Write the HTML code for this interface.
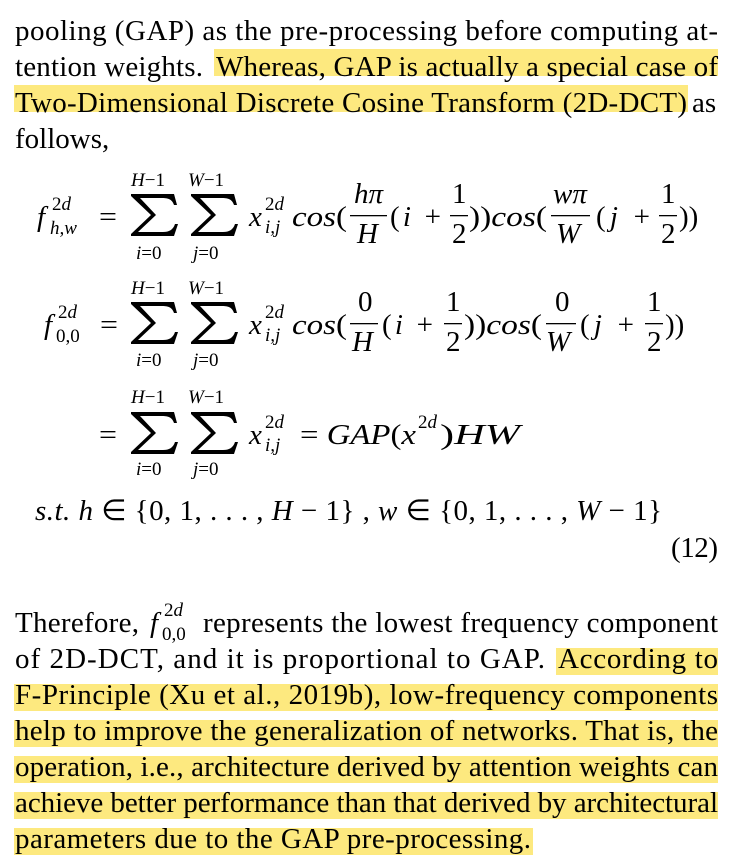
<!DOCTYPE html>
<html><head><meta charset="utf-8"><style>
html,body{margin:0;padding:0;background:#fff;}
svg{display:block;}
text{font-family:"Liberation Serif",serif;fill:#000;}
.t{font-size:29px;}
.m{font-size:29px;font-style:italic;}
.r{font-size:29px;}
.s{font-size:19px;font-style:italic;}
.sr{font-size:19px;}
</style></head><body>
<svg width="733" height="862" viewBox="0 0 733 862">
<defs>
<path id="sig" d="M0,0 L43,0 L46,11 L43,11 C41,5 37,4 30,4 L9,4 L25,21 L7,38 L32,38 C38,38 42,36 44,30 L47,30 L43,42 L0,42 L0,40 L20,21 L0,2 Z"/>
</defs>
<g fill="#fde97f">
<rect x="214" y="49" width="504" height="27"/>
<rect x="14" y="85" width="674" height="27"/>
<rect x="556" y="648" width="162" height="27"/>
<rect x="14" y="684" width="704" height="27"/>
<rect x="14" y="720" width="704" height="27"/>
<rect x="14" y="756" width="704" height="27"/>
<rect x="14" y="792" width="704" height="27"/>
<rect x="14" y="828" width="519" height="27"/>
</g>
<g class="t">
<text x="15" y="40" textLength="703" lengthAdjust="spacing">pooling (GAP) as the pre-processing before computing at-</text>
<text x="15" y="76" textLength="188" lengthAdjust="spacing">tention weights.</text>
<text x="216" y="76" textLength="502" lengthAdjust="spacing">Whereas, GAP is actually a special case of</text>
<text x="15" y="112" textLength="672" lengthAdjust="spacing">Two-Dimensional Discrete Cosine Transform (2D-DCT)</text>
<text x="692" y="112">as</text>
<text x="15" y="148">follows,</text>
</g>
<g>
<text class="m" x="37" y="226">f</text><text class="sr" x="52" y="210">2<tspan font-style="italic">d</tspan></text><text class="s" x="50" y="234">h,w</text>
<text class="r" x="99" y="226" textLength="18" lengthAdjust="spacingAndGlyphs">=</text>
<use href="#sig" x="131" y="194"/><use href="#sig" x="191" y="194"/>
<text class="s" x="131" y="186">H<tspan font-style="normal">−1</tspan></text><text class="s" x="188" y="186">W<tspan font-style="normal">−1</tspan></text>
<text class="s" x="136" y="259">i<tspan font-style="normal">=0</tspan></text><text class="s" x="193" y="259">j<tspan font-style="normal">=0</tspan></text>
<text class="m" x="249" y="226">x</text><text class="sr" x="265" y="210">2<tspan font-style="italic">d</tspan></text><text class="s" x="265" y="233">i,j</text>
<text class="m" x="292" y="226" textLength="55" lengthAdjust="spacingAndGlyphs">cos<tspan font-style="normal">(</tspan></text>
<text class="m" x="354" y="203">hπ</text><rect x="350" y="215" width="37" height="1.3"/><text class="m" x="357" y="243">H</text>
<text class="r" x="390" y="226" textLength="51" lengthAdjust="spacing">(<tspan font-style="italic">i</tspan> +</text>
<text class="r" x="452" y="203">1</text><rect x="450" y="215" width="18" height="1.3"/><text class="r" x="452" y="243">2</text>
<text class="m" x="469" y="226" textLength="78" lengthAdjust="spacingAndGlyphs"><tspan font-style="normal">))</tspan>cos<tspan font-style="normal">(</tspan></text>
<text class="m" x="553" y="203">wπ</text><rect x="551" y="215" width="39" height="1.3"/><text class="m" x="556" y="243">W</text>
<text class="r" x="596" y="226" textLength="54" lengthAdjust="spacing">(<tspan font-style="italic">j</tspan> +</text>
<text class="r" x="661" y="203">1</text><rect x="659" y="215" width="18" height="1.3"/><text class="r" x="661" y="243">2</text>
<text class="r" x="679" y="226">))</text>
</g>
<g>
<text class="m" x="44" y="334">f</text><text class="sr" x="58" y="318">2<tspan font-style="italic">d</tspan></text><text class="sr" x="56" y="342">0,0</text>
<text class="r" x="100" y="334" textLength="18" lengthAdjust="spacingAndGlyphs">=</text>
<use href="#sig" x="131" y="302"/><use href="#sig" x="191" y="302"/>
<text class="s" x="131" y="294">H<tspan font-style="normal">−1</tspan></text><text class="s" x="188" y="294">W<tspan font-style="normal">−1</tspan></text>
<text class="s" x="136" y="366">i<tspan font-style="normal">=0</tspan></text><text class="s" x="193" y="366">j<tspan font-style="normal">=0</tspan></text>
<text class="m" x="249" y="334">x</text><text class="sr" x="265" y="318">2<tspan font-style="italic">d</tspan></text><text class="s" x="265" y="341">i,j</text>
<text class="m" x="292" y="334" textLength="55" lengthAdjust="spacingAndGlyphs">cos<tspan font-style="normal">(</tspan></text>
<text class="r" x="358" y="311">0</text><rect x="350" y="323" width="28" height="1.3"/><text class="m" x="352" y="351">H</text>
<text class="r" x="382" y="334" textLength="51" lengthAdjust="spacing">(<tspan font-style="italic">i</tspan> +</text>
<text class="r" x="446" y="311">1</text><rect x="444" y="323" width="18" height="1.3"/><text class="r" x="446" y="351">2</text>
<text class="m" x="464" y="334" textLength="78" lengthAdjust="spacingAndGlyphs"><tspan font-style="normal">))</tspan>cos<tspan font-style="normal">(</tspan></text>
<text class="r" x="555" y="311">0</text><rect x="546" y="323" width="30" height="1.3"/><text class="m" x="546" y="351">W</text>
<text class="r" x="580" y="334" textLength="54" lengthAdjust="spacing">(<tspan font-style="italic">j</tspan> +</text>
<text class="r" x="647" y="311">1</text><rect x="645" y="323" width="18" height="1.3"/><text class="r" x="647" y="351">2</text>
<text class="r" x="665" y="334">))</text>
</g>
<g>
<text class="r" x="99" y="444" textLength="18" lengthAdjust="spacingAndGlyphs">=</text>
<use href="#sig" x="131" y="412"/><use href="#sig" x="191" y="412"/>
<text class="s" x="131" y="403">H<tspan font-style="normal">−1</tspan></text><text class="s" x="188" y="403">W<tspan font-style="normal">−1</tspan></text>
<text class="s" x="136" y="475">i<tspan font-style="normal">=0</tspan></text><text class="s" x="193" y="475">j<tspan font-style="normal">=0</tspan></text>
<text class="m" x="249" y="444">x</text><text class="sr" x="265" y="428">2<tspan font-style="italic">d</tspan></text><text class="s" x="265" y="451">i,j</text>
<text class="r" x="300" y="444" textLength="116" lengthAdjust="spacingAndGlyphs">= <tspan font-style="italic">GAP</tspan>(<tspan font-style="italic">x</tspan></text>
<text class="sr" x="418" y="428">2<tspan font-style="italic">d</tspan></text>
<text class="r" x="440" y="444" textLength="80" lengthAdjust="spacingAndGlyphs">)<tspan font-style="italic">HW</tspan></text>
</g>
<g>
<text class="m" x="35" y="520" textLength="627" lengthAdjust="spacing">s.t.  h <tspan font-style="normal">∈ {0, 1, . . . ,</tspan> H <tspan font-style="normal">− 1} ,</tspan> w <tspan font-style="normal">∈ {0, 1, . . . ,</tspan> W <tspan font-style="normal">− 1}</tspan></text>
<text class="t" x="671" y="557" textLength="47" lengthAdjust="spacing">(12)</text>
</g>
<g class="t">
<text x="15" y="632" textLength="124" lengthAdjust="spacing">Therefore,</text>
<text class="m" x="150" y="632">f</text><text class="sr" x="164" y="616">2<tspan font-style="italic">d</tspan></text><text class="sr" x="162" y="640">0,0</text>
<text x="203" y="632" textLength="515" lengthAdjust="spacing">represents the lowest frequency component</text>
<text x="15" y="668" textLength="530" lengthAdjust="spacing">of 2D-DCT, and it is proportional to GAP.</text>
<text x="558" y="668" textLength="160" lengthAdjust="spacing">According to</text>
<text x="15" y="704" textLength="703" lengthAdjust="spacing">F-Principle  (Xu et al., 2019b), low-frequency components</text>
<text x="15" y="740" textLength="703" lengthAdjust="spacing">help to improve the generalization of networks. That is, the</text>
<text x="15" y="776" textLength="703" lengthAdjust="spacing">operation, i.e., architecture derived by attention weights can</text>
<text x="15" y="812" textLength="703" lengthAdjust="spacing">achieve better performance than that derived by architectural</text>
<text x="15" y="848" textLength="516" lengthAdjust="spacing">parameters due to the GAP pre-processing.</text>
</g>
</svg>
</body></html>
